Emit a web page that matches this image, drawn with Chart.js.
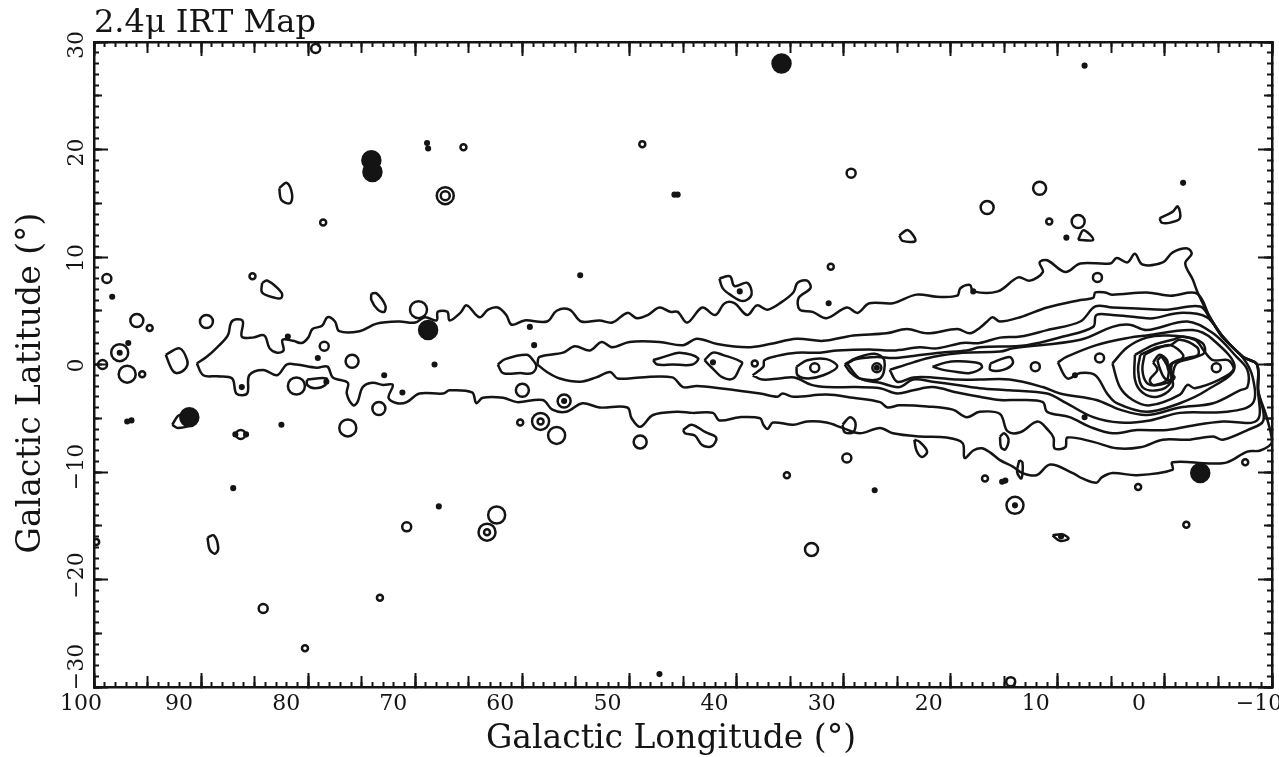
<!DOCTYPE html>
<html>
<head>
<meta charset="utf-8">
<title>2.4μ IRT Map</title>
<script src="https://cdn.jsdelivr.net/npm/chart.js@4/dist/chart.umd.min.js"></script>
<style>
  html, body { margin: 0; background: #fff; }
  canvas { display: block; filter: blur(0.45px); }
</style>
</head>
<body>
<canvas id="irtMap" width="1279" height="757"></canvas>
<script>
// tick labels
const lonTicks = [100, 90, 80, 70, 60, 50, 40, 30, 20, 10, 0, -10];
const latTicks = [30, 20, 10, 0, -10, -20, -30];

// contours, [longitude, latitude] in degrees, outermost level first
const level1 = [[90.4,0.1],[89.5,0.7],[88.5,1.6],[87.5,2.7],[87.2,3.9],[86.7,4.2],[86.1,4.0],[86.2,2.6],[85.2,2.5],[84.1,2.7],[83.6,1.5],[82.9,1.1],[82.3,1.3],[82.4,2.3],[81.4,2.2],[80.6,2.0],[80.0,2.5],[79.6,3.3],[78.7,3.6],[78.2,4.4],[77.5,4.0],[77.1,3.1],[75.2,3.1],[73.6,3.8],[71.5,4.0],[70.0,3.9],[69.1,4.4],[68.0,4.1],[67.9,4.9],[67.0,4.9],[66.8,4.1],[65.8,4.8],[65.2,5.5],[64.0,4.4],[63.2,5.1],[62.3,5.3],[61.5,4.6],[61.0,3.7],[59.8,4.1],[57.7,4.0],[56.8,5.0],[55.6,5.1],[54.5,4.0],[52.8,4.1],[51.6,3.9],[50.2,4.8],[49.3,4.3],[48.3,4.6],[47.2,5.3],[46.2,4.9],[45.5,4.9],[44.6,3.9],[43.2,5.3],[42.0,4.6],[41.1,5.7],[40.2,5.7],[39.0,4.6],[38.1,5.5],[37.1,5.1],[35.8,5.8],[34.7,6.7],[34.3,7.6],[33.4,7.8],[33.1,7.1],[34.2,6.2],[34.1,5.1],[32.9,4.9],[31.6,4.3],[29.7,5.3],[28.7,4.8],[27.6,5.7],[25.4,5.7],[23.2,6.5],[21.3,6.3],[19.4,6.4],[19.1,7.1],[18.2,7.4],[17.9,6.8],[15.6,6.8],[13.7,8.1],[12.6,7.8],[11.4,8.6],[11.7,9.5],[11.0,9.7],[9.3,8.6],[7.9,9.4],[5.1,9.4],[4.5,9.9],[3.5,9.5],[2.8,10.3],[2.1,9.3],[0.2,9.5],[-0.7,10.4],[-2.1,10.8],[-2.5,10.3],[-1.9,9.4],[-2.6,7.9],[-3.1,6.6],[-4.2,4.4],[-5.4,2.6],[-7.3,0.7],[-8.6,0],[-8.7,-2.4],[-9.5,-4.9],[-10,-7.2],[-8.9,-8.0],[-7.7,-8.1],[-5.8,-9.1],[-4.2,-9.2],[-0.7,-9.1],[-0.7,-9.8],[2.6,-10.3],[4.9,-10.1],[5.9,-10.5],[6.4,-11.0],[7.7,-10.6],[8.6,-10.1],[10.7,-9.3],[12.0,-10.3],[13.3,-10.1],[14.2,-9.5],[15.4,-8.9],[16.3,-8.2],[17.1,-7.8],[17.9,-8.0],[18.7,-8.7],[18.9,-7.3],[20.4,-6.8],[22.9,-6.7],[25.4,-6.4],[26.6,-5.9],[28.5,-6.4],[30.1,-5.9],[31.6,-5.4],[33.4,-5.3],[34.7,-5.6],[36.6,-5.4],[37.1,-6.0],[37.5,-5.6],[37.8,-5.0],[39.7,-4.9],[41.6,-5.2],[42.2,-4.5],[44.1,-4.5],[45.6,-4.4],[47.8,-4.7],[49.0,-5.8],[49.8,-5.0],[50.2,-4.0],[52.8,-4.0],[54.4,-3.6],[55.9,-4.4],[57.2,-4.2],[58.1,-3.3],[60.5,-3.5],[61.8,-3.1],[63.7,-3.1],[64.3,-3.6],[64.7,-2.6],[66.8,-2.4],[67.4,-2.7],[69.6,-2.7],[70.8,-3.5],[71.7,-3.6],[72.5,-3.1],[72.1,-1.9],[73.0,-1.9],[74.0,-1.7],[74.9,-2.1],[75.4,-3.5],[75.8,-3.8],[76.4,-2.7],[76.3,-1.7],[77.7,-1.2],[78.2,-0.2],[79.2,-0.3],[81.1,0],[82.0,0],[82.9,-1.0],[84.2,-0.5],[85.5,-1.0],[85.7,-2.7],[86.7,-2.7],[87.1,-1.3],[88.5,-1.1],[89.8,-1.0]];
const level2 = [[58.6,0],[58.4,0.7],[56.2,1.1],[55.1,1.7],[53.7,1.3],[52.6,2.1],[51.6,1.6],[50.0,2.1],[47.2,2.1],[45.0,1.8],[43.7,2.4],[41.8,1.9],[39.0,1.6],[36.9,1.9],[34.4,2.4],[31.9,2.2],[29.1,2.7],[26.0,2.9],[24.1,3.3],[22.2,2.9],[19.4,3.3],[18.2,2.9],[17.3,3.4],[16.6,4.0],[16.1,4.4],[15.4,4.0],[13.5,4.4],[11.0,5.3],[7.9,6.0],[6.7,6.2],[6.5,6.7],[5.6,6.7],[4.9,6.5],[1.7,6.7],[-0.5,6.4],[-3.0,6.6],[-4.2,4.4],[-5.4,2.6],[-7.3,0.7],[-8.6,0],[-8.7,-2.4],[-9.2,-5.2],[-7.7,-6.1],[-5.4,-7.0],[-4.5,-6.7],[-2.1,-7.0],[0.2,-7.0],[2.3,-7.7],[4.5,-7.8],[6.7,-7.2],[9.1,-6.8],[9.3,-7.7],[10.3,-7.8],[10.4,-6.8],[10.9,-6.1],[11.9,-5.3],[13.5,-6.3],[14.7,-6.2],[15.4,-4.6],[17.3,-4.4],[18.5,-4.9],[19.8,-4.2],[22.2,-3.9],[24.8,-3.8],[25.9,-4.0],[26.6,-3.5],[29.1,-3.1],[31.6,-2.8],[34.7,-3.0],[35.7,-2.7],[36.2,-3.0],[37.8,-2.7],[41.6,-2.2],[43.7,-2.0],[45.0,-2.1],[46.0,-1.2],[49.0,-1.2],[51.1,-1.3],[51.8,-0.7],[53.1,-1.2],[54.6,-1.6],[56.5,-1.3],[57.7,-0.7]];
const level2Lobe = [[62.3,0],[61.6,0.5],[59.6,0.9],[59.0,0.4],[58.7,-0.2],[59.1,-0.8],[60.2,-0.8],[61.8,-0.8]];
const level3 = [[38.5,-1.0],[37.5,-0.2],[37.4,0.4],[36.2,0.8],[34.4,1.1],[32.2,1.1],[30.6,1.3],[27.6,1.4],[25.4,1.3],[22.9,1.6],[21.3,1.5],[18.9,2.0],[17.3,2.0],[15.4,2.5],[13.5,2.6],[11.0,3.2],[7.9,4.0],[6.5,5.4],[4.9,5.3],[2.6,5.2],[-0.2,5.1],[-3.3,5.4],[-4.2,4.3],[-5.4,2.6],[-7.3,0.7],[-8.6,0],[-8.7,-2.4],[-8.6,-5.2],[-5.4,-5.3],[-3.0,-5.6],[-0.2,-6.1],[2.6,-6.1],[4.9,-6.4],[7.0,-5.8],[8.9,-4.9],[11.0,-4.4],[11.4,-3.5],[13.5,-3.3],[15.4,-3.3],[17.3,-3.0],[19.4,-2.6],[21.7,-2.1],[23.5,-2.4],[25.0,-2.7],[26.6,-2.2],[28.8,-2.1],[31.6,-2.1],[33.0,-1.9],[34.6,-1.2],[36.0,-1.3],[37.6,-1.4]];
const level4 = [[29.7,0.1],[28.8,0.5],[26.9,0.7],[25.4,0.6],[23.5,0.8],[21.0,1.1],[18.5,1.3],[17.3,1.6],[12.9,1.8],[9.5,2.6],[6.7,3.5],[6.4,4.6],[4.9,4.6],[2.6,4.4],[1.1,4.3],[-1.4,4.8],[-3.9,4.4],[-5.4,2.5],[-7.3,0.6],[-8.2,-1.2],[-8.2,-3.6],[-5.8,-4.4],[-1.4,-4.5],[1.4,-5.2],[4.2,-5.4],[6.7,-4.9],[9.2,-3.6],[11.0,-2.7],[14.5,-2.4],[17.3,-2.2],[19.4,-1.9],[21.7,-1.6],[23.5,-1.4],[24.8,-2.1],[26.6,-1.7],[28.5,-1.3]];
const level5 = [[25.7,-0.5],[23.5,0.2],[21.7,0.7],[18.9,1.1],[15.4,1.2],[14.2,1.5],[7.9,2.3],[4.9,3.5],[3.3,3.7],[1.7,3.2],[-2.1,4.0],[-4.5,2.9],[-6.7,0.7],[-7.7,-0.5],[-7.7,-2.1],[-7.0,-2.4],[-4.5,-3.6],[-1.4,-4.0],[1.7,-4.7],[4.2,-4.2],[6.4,-3.3],[9.8,-2.7],[11.4,-2.1],[14.5,-1.4],[17.3,-1.4],[19.4,-1.4],[21.7,-1.2],[23.5,-1.2],[25.0,-1.6]];
const level6 = [[10.0,0.2],[9.2,0.7],[6.4,1.8],[3.3,2.5],[1.7,2.7],[-2.6,3.2],[-4.5,2.3],[-6.5,-0.3],[-3.9,-2.4],[-1.4,-3.6],[1.7,-4.4],[4.5,-3.6],[5.4,-2.7],[6.5,-1.0],[7.9,-0.8],[9.1,-1.3]];
const level7 = [[4.9,0.1],[3.5,1.6],[1.7,2.5],[-0.2,2.7],[-2.8,2.3],[-3.7,1.2],[-4.5,0.4],[-5.9,0.4],[-6.4,-0.5],[-5.1,-1.4],[-2.8,-2.2],[-2.1,-1.9],[-1.4,-2.8],[1.4,-3.8],[3.0,-3.3],[4.2,-2.1]];
const level8 = [[2.8,0.9],[1.1,1.8],[-0.7,2.3],[-1.7,2.6],[-3.5,2.0],[-3.7,1.1],[-2.6,0.6],[-1.1,0.1],[-0.7,-1.2],[-0.7,-2.1],[0.7,-3.0],[2.1,-2.6],[2.8,-1.4]];
const level9 = [[2.3,0.9],[0.7,1.6],[-0.5,1.8],[-1.4,2.3],[-3.0,1.6],[-3.1,0.9],[-2.1,0.6],[-0.7,0.1],[-0.5,-1.7],[0.7,-2.4],[2.1,-2.1],[2.5,-0.5]];
const level10 = [[1.9,0.9],[0.7,1.5],[-0.5,1.8],[-1.7,0.9],[-1.4,0.4],[-0.5,0],[-0.2,-1.4],[0.9,-1.9],[1.7,-1.7],[2.1,-0.5]];
const level11 = [[1.1,0.2],[0.5,0.9],[-0.2,0.4],[-0.3,-0.5],[-0.9,-1.2],[-0.2,-1.7],[1.1,-1.9],[1.4,-1.4],[0.7,-0.5]];
const core = [[0.7,0.4],[0.3,0.7],[-0.5,-0.7],[-0.7,-1.4],[0,-1.3],[0.5,-0.3]];

// closed islands along the plane
const planeIslands = [
  [[43.0,0.4],[42.2,1.1],[41.3,0.9],[39.5,0.2],[39.7,-0.3],[40.3,-1.3],[41.3,-1.2],[42.3,-0.3]],
  [[47.8,0.4],[46.5,0.8],[45.3,1.1],[43.6,0.6],[44.1,0],[46.0,0],[47.4,0]],
  [[34.4,-0.2],[33.4,0.4],[31.6,0.5],[30.6,-0.2],[31.9,-1.0],[33.3,-1.3],[34.3,-1.0]],
  [[29.9,0],[28.8,0.6],[27.1,1.0],[26.2,0.4],[26.6,-1.3],[28.5,-1.3],[29.4,-0.7]],
  [[21.7,-0.2],[20.4,0.2],[19.4,0.3],[17.3,0.1],[17.1,-0.3],[18.2,-0.8],[19.4,-0.7],[20.7,-0.5]],
  [[16.3,0.1],[14.5,0.7],[14.2,0.1],[15.1,-0.5],[16.3,-0.5]]
];

// irregular small sources off the plane
const smallBlobs = [
  [[93.3,0.9],[92.0,1.5],[91.3,0.4],[91.4,-0.3],[92.2,-0.8],[92.7,-0.5]],
  [[84.3,7.6],[83.8,7.8],[82.5,6.7],[82.5,6.2],[83.1,6.2],[84.3,6.7]],
  [[74.1,6.6],[73.6,6.6],[72.8,5.5],[72.9,4.9],[73.5,5.1],[74.1,6.0]],
  [[80.1,-1.4],[78.3,-1.3],[78.4,-1.9],[79.4,-2.2],[80.1,-1.9]],
  [[82.7,16.4],[82.0,16.9],[81.5,15.8],[81.7,15.0],[82.5,15.3]],
  [[24.8,12.0],[24.0,12.5],[23.3,11.5],[24.5,11.5]],
  [[0.5,13.6],[-0.7,14.2],[-1.2,14.7],[-1.4,13.6],[-0.5,13.2],[0.3,13.2]],
  [[8.1,11.6],[7.6,12.5],[6.7,11.6]],
  [[41.6,8.0],[40.6,8.2],[40.2,7.3],[39.0,7.6],[38.6,6.5],[39.4,5.9],[40.6,6.5],[41.3,7.1]],
  [[45.0,-6.1],[44.2,-5.6],[42.9,-6.3],[41.9,-6.8],[42.3,-7.6],[43.2,-7.5],[43.9,-6.6],[44.8,-6.4]],
  [[30.1,-5.6],[29.4,-4.9],[28.9,-5.4],[29.1,-6.3],[29.9,-6.3]],
  [[23.4,-7.0],[22.9,-7.2],[22.2,-8.1],[22.7,-8.6],[23.2,-8.0]],
  [[15.4,-6.7],[15.0,-6.4],[14.6,-7.0],[14.9,-7.9],[15.3,-7.7]],
  [[13.6,-8.9],[13.3,-9.1],[13.4,-10.6],[13.8,-10.0]],
  [[10.5,-15.9],[9.6,-15.8],[9.0,-16.2],[9.8,-16.4]],
  [[89.4,-16.1],[88.8,-15.9],[88.4,-17.1],[88.7,-17.6],[89.2,-17.2]],
  [[92.7,-5.6],[92.0,-4.7],[91.1,-5.6],[92.2,-5.9]]
];

// round sources, grouped by how big they look
const tinyRings = [[94.8,3.4],[85.2,8.2],[95.5,-0.9],[38.3,0.1],[60.2,-5.4],[78.6,13.2],[65.5,20.2],[48.8,20.5],[10.8,13.3],[31.2,9.1],[35.3,-10.3],[-2.0,-14.9],[73.3,-21.7],[80.3,-26.4],[2.5,-11.4],[16.8,-10.6],[99.8,-16.5],[-7.5,-9.1],[58.3,-5.3],[63.3,-15.6]];
const smallRings = [[98.8,8.0],[78.5,1.7],[99.2,0],[79.3,29.4],[29.3,17.8],[6.1,0.6],[6.3,8.1],[12.1,-0.2],[70.8,-15.1],[29.7,-8.7],[84.2,-22.7],[14.4,-29.5],[32.7,-0.3],[26.9,-0.3],[86.3,-6.5],[67.2,15.7],[-4.8,-0.3]];
const midRings = [[96.0,4.1],[89.5,4.0],[75.9,0.3],[73.4,-4.1],[60.0,-2.4],[56.1,-3.4],[49.0,-7.2],[11.7,16.4],[8.1,13.3],[16.6,14.6],[33.0,-17.2]];
const largeRings = [[97.6,1.1],[96.9,-0.9],[81.1,-2.0],[76.3,-5.9],[58.3,-5.3],[56.8,-6.6],[62.4,-14.0],[63.3,-15.6],[14.0,-13.1],[67.2,15.7],[69.7,5.1]];
const dots = [[98.3,6.3],[96.8,2.0],[97.6,1.1],[72.9,-1.0],[86.2,-2.1],[81.9,2.6],[82.5,-5.6],[78.3,-1.6],[79.1,0.6],[7.5,27.8],[-1.7,16.9],[68.9,20.6],[68.8,20.1],[9.2,11.8],[54.6,8.3],[31.4,5.7],[17.9,6.8],[39.7,6.8],[59.3,3.5],[58.9,1.8],[68.2,0],[71.2,-2.6],[56.1,-3.4],[42.2,0.2],[26.9,-0.3],[8.4,-1.0],[67.8,-13.2],[87.0,-11.5],[27.1,-11.7],[47.2,-28.8],[14.0,-13.1],[9.7,-16.0],[7.5,-4.9],[96.9,-5.3],[96.5,-5.2],[14.9,-10.8],[15.2,-10.9],[86.8,-6.5],[85.8,-6.5],[45.8,15.8],[45.5,15.8]];
const filledSources = [[35.8,28.0],[74.1,19.0],[74.0,17.9],[68.8,3.2],[91.1,-4.9],[-3.3,-10.1]];

const INK = "#141414";
const toPoints = (pairs) => pairs.map(([x, y]) => ({ x, y }));

function contourDataset(pairs) {
    const closed = pairs.concat([pairs[0]]);
    return {
        data: toPoints(closed),
        showLine: true,
        pointRadius: 0,
        borderColor: INK,
        borderWidth: 2.5,
        tension: 0.35
    };
}

function ringDataset(pairs, radius, fillColor) {
    return {
        data: toPoints(pairs),
        showLine: false,
        pointRadius: radius,
        pointBorderWidth: 2.5,
        pointBorderColor: INK,
        pointBackgroundColor: fillColor || "transparent"
    };
}

const allContours = [level1, level2, level2Lobe, level3, level4, level5, level6, level7, level8, level9, level10, level11, core]
    .concat(planeIslands, smallBlobs);

const datasets = allContours.map(contourDataset).concat([
    ringDataset(tinyRings, 3),
    ringDataset(smallRings, 4.5),
    ringDataset(midRings, 6.5),
    ringDataset(largeRings, 8.5),
    ringDataset(dots, 1.8, INK),
    ringDataset(filledSources, 9, INK)
]);

// first/last label margins would push the plot area in, so drop them
function clearMargins(scale) {
    scale.paddingLeft = scale.paddingRight = scale.paddingTop = scale.paddingBottom = 0;
}

// extra zero-size axes just carry the shorter inward tick marks and the opposite frame edges
function tickAxis(position, step, length, showBorder) {
    const horizontal = position === "top" || position === "bottom";
    return {
        type: "linear",
        axis: horizontal ? "x" : "y",
        position: position,
        weight: 0,
        reverse: horizontal,
        min: horizontal ? -10 : -30,
        max: horizontal ? 100 : 30,
        border: { display: showBorder, color: INK, width: 2.5 },
        grid: { drawOnChartArea: false, tickLength: -length, tickWidth: 2, tickColor: INK },
        ticks: { display: false, stepSize: step, autoSkip: false },
        afterFit: (scale) => {
            clearMargins(scale);
            if (horizontal) scale.height = 0; else scale.width = 0;
        }
    };
}

const tickFont = { family: "'DejaVu Serif'", size: 22 };
const axisTitleFont = "33px 'DejaVu Serif'";

// where the printed labels sit away from their ticks
const lonLabelNudge = { "100": 9, "0": -4, "-10": 9 };
const latLabelNudge = { "30": 3, "20": 3, "10": 1, "0": 1, "-10": -5, "-20": -4, "-30": -20 };

const tickLabelNudge = {
    id: "tickLabelNudge",
    beforeDraw(chart) {
        chart.scales.x.getLabelItems(chart.chartArea).forEach((item) => {
            const key = String(item.label).replace("\u2212", "-");
            item.options.translation[0] += lonLabelNudge[key] || 0;
        });
        chart.scales.y.getLabelItems(chart.chartArea).forEach((item) => {
            const key = String(item.label).replace("\u2212", "-");
            item.options.translation[1] += latLabelNudge[key] || 0;
        });
    }
};

const axisTitles = {
    id: "axisTitles",
    afterDraw(chart) {
        const ctx = chart.ctx;
        ctx.save();
        ctx.fillStyle = INK;
        ctx.font = axisTitleFont;
        ctx.textAlign = "center";
        ctx.textBaseline = "middle";
        ctx.fillText("Galactic Longitude (°)", 671, 739);
        ctx.translate(31, 383);
        ctx.rotate(-Math.PI / 2);
        ctx.fillText("Galactic Latitude (°)", 0, 0);
        ctx.restore();
    }
};

const minusLabel = (value) => String(value).replace("-", "\u2212");

new Chart(document.getElementById("irtMap"), {
    type: "scatter",
    data: { datasets: datasets },
    plugins: [tickLabelNudge, axisTitles],
    options: {
        responsive: false,
        animation: false,
        events: [],
        layout: { autoPadding: false, padding: { left: 0, right: 7, top: 0, bottom: 0 } },
        plugins: {
            legend: { display: false },
            tooltip: { enabled: false },
            title: {
                display: true,
                text: "2.4μ IRT Map",
                align: "start",
                fullSize: false,
                color: INK,
                font: { family: "'DejaVu Serif'", size: 32, weight: "normal", lineHeight: 1 },
                padding: { top: 8, bottom: 2 }
            }
        },
        scales: {
            x: {
                type: "linear",
                position: "bottom",
                weight: 1,
                reverse: true,
                min: -10,
                max: 100,
                border: { color: INK, width: 2.5 },
                grid: { drawOnChartArea: false, tickLength: -14, tickWidth: 2, tickColor: INK },
                afterFit: (scale) => { clearMargins(scale); scale.height = 70; },
                ticks: {
                    stepSize: 10,
                    autoSkip: false,
                    maxRotation: 0,
                    padding: 18,
                    labelOffset: -22,
                    color: INK,
                    font: tickFont,
                    callback: (value) => lonTicks.includes(value) ? minusLabel(value) : ""
                }
            },
            y: {
                type: "linear",
                position: "left",
                weight: 1,
                min: -30,
                max: 30,
                border: { color: INK, width: 2.5 },
                grid: { drawOnChartArea: false, tickLength: -14, tickWidth: 2, tickColor: INK },
                afterFit: (scale) => { clearMargins(scale); scale.width = 94; },
                ticks: {
                    stepSize: 10,
                    autoSkip: false,
                    minRotation: 90,
                    maxRotation: 90,
                    crossAlign: "center",
                    padding: 8,
                    color: INK,
                    font: tickFont,
                    callback: (value) => latTicks.includes(value) ? minusLabel(value) : ""
                }
            },
            xBottom1: tickAxis("bottom", 1, 5, false),
            xBottom5: tickAxis("bottom", 5, 11, false),
            xTop1: tickAxis("top", 1, 5, true),
            xTop5: tickAxis("top", 5, 11, false),
            xTop10: tickAxis("top", 10, 14, false),
            yLeft1: tickAxis("left", 1, 5, false),
            yLeft5: tickAxis("left", 5, 8, false),
            yRight1: tickAxis("right", 1, 5, true),
            yRight5: tickAxis("right", 5, 8, false),
            yRight10: tickAxis("right", 10, 14, false)
        }
    }
});
</script>
</body>
</html>
